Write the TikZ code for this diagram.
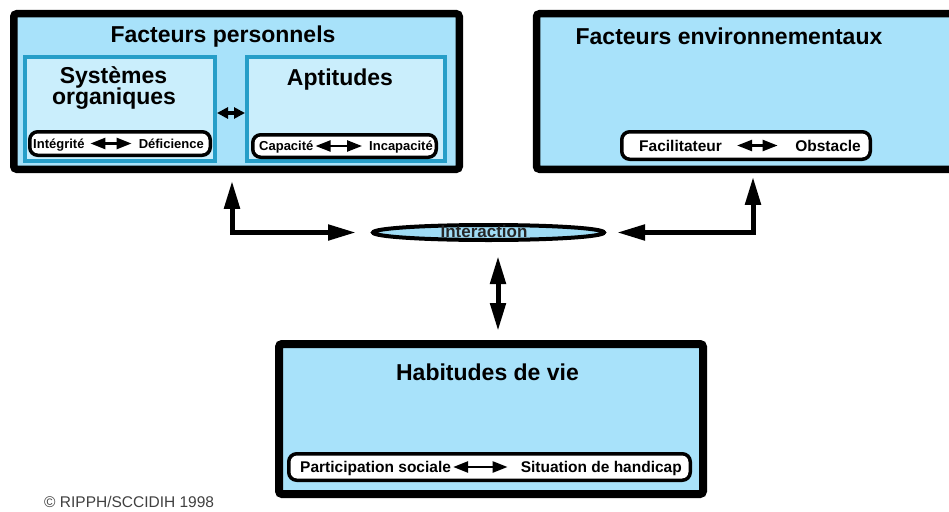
\documentclass[tikz,border=0pt]{standalone}
\usepackage{fontspec}
\setmainfont{Liberation Sans}
\usepackage{xcolor}
\usepackage{tikz}
\usetikzlibrary{shapes.geometric}
\usetikzlibrary{calc}
\usetikzlibrary{arrows.meta}

\definecolor{ciel}{RGB}{168,226,250}
\definecolor{cielclair}{RGB}{202,238,252}
\definecolor{bleubord}{RGB}{38,158,200}
\definecolor{cielell}{RGB}{160,220,245}

\tikzset{
  facteur/.style={draw=black,line width=7.5pt,fill=ciel,rounded corners=3pt,inner sep=0pt},
  souscase/.style={draw=bleubord,line width=4pt,fill=cielclair,inner sep=0pt},
  pastille/.style={draw=black,line width=3.5pt,fill=white,rounded corners=8pt,inner sep=0pt},
  titre/.style={font=\fontsize{23}{21}\selectfont\bfseries,inner sep=0pt,anchor=base},
  petit/.style={font=\fontsize{13}{13}\selectfont\bfseries,inner sep=0pt},
  moyen/.style={font=\fontsize{15.5}{15}\selectfont\bfseries,inner sep=0pt},
  grosse/.style={line width=5pt,{Triangle[length=28pt,width=15pt]}-{Triangle[length=28pt,width=15pt]}},
  milieu/.style={line width=3.5pt,{Triangle[length=11pt,width=11pt]}-{Triangle[length=11pt,width=11pt]}},
  fine/.style={line width=2.5pt,{Triangle[length=15pt,width=11pt]}-{Triangle[length=15pt,width=11pt]}},
}

\begin{document}
\begin{tikzpicture}[x=1pt,y=-1pt]
   \useasboundingbox (0,0) rectangle (949,511);
   \clip (0,0) rectangle (949,511);
   % les trois grandes cases
   \node[facteur,minimum width=445.5pt,minimum height=155.5pt] (fp) at (236.5,91.5) {};
   \node[facteur,minimum width=420pt,minimum height=155.5pt] (fe) at (746.5,91.5) {};
   \node[facteur,line width=8pt,minimum width=424pt,minimum height=150pt] (hv) at (491,419) {};
   % sous-cases
   \node[souscase,minimum width=190pt,minimum height=104pt] (so) at (120,109) {};
   \node[souscase,minimum width=198pt,minimum height=104pt] (ap) at (346,109) {};
   % pastilles
   \node[pastille,minimum width=180.5pt,minimum height=23.5pt] (p1) at (120,143.5) {};
   \node[pastille,minimum width=183.5pt,minimum height=22.5pt] (p2) at (344.5,146) {};
   \node[pastille,minimum width=248.5pt,minimum height=27.5pt] (p3) at (746,145.5) {};
   \node[pastille,minimum width=401.5pt,minimum height=26.5pt] (p4) at (489.5,467) {};
   \node[ellipse,draw=black,line width=4pt,fill=cielell,minimum width=231pt,minimum height=15pt,inner sep=0pt] (inter) at (488.5,232.5) {};
   % titres
   \node[titre] (fptxt) at (223,42.7) {Facteurs personnels};
   \node[titre] (fetxt) at (729,45) {Facteurs environnementaux};
   \node[titre] (hvtxt) at (487.5,380) {Habitudes de vie};
   \node[titre] (aptxt) at (340,85) {Aptitudes};
   \node[titre] (sotxta) at (113.5,83) {Systèmes};
   \node[titre] (sotxtb) at (114,104) {organiques};
   \node[font=\fontsize{17}{17}\selectfont\bfseries,text=black!85,inner sep=0pt,anchor=base] (intertxt) at (484,237) {Interaction};
   % textes des pastilles
   \node[petit,anchor=base west] (integ) at (33,148.2) {Intégrité};
   \node[petit,anchor=base east] (defic) at (204,148.2) {Déficience};
   \node[petit,anchor=base west] (capa) at (259,150.7) {Capacité};
   \node[petit,anchor=base east] (incapa) at (433,150.7) {Incapacité};
   \node[moyen,anchor=base west] (facil) at (639,151) {Facilitateur};
   \node[moyen,anchor=base east] (obst) at (861,151) {Obstacle};
   \node[moyen,anchor=base west] (parti) at (300,472.6) {Participation sociale};
   \node[moyen,anchor=base east] (situ) at (682,472.6) {Situation de handicap};
   \draw[fine,shorten <=5.7pt,shorten >=7pt] (integ.east |- p1) -- (defic.west |- p1);
   \draw[fine,shorten <=2pt,shorten >=7pt] (capa.east |- p2) -- (incapa.west |- p2);
   \draw[fine,shorten <=15pt,shorten >=17.5pt] (facil.east |- p3) -- (obst.west |- p3);
   \draw[fine,shorten <=2pt,shorten >=13pt] (parti.east |- p4) -- (situ.west |- p4);
   % liaisons
   \draw[milieu] ([yshift=-4pt]so.east) -- ([yshift=-4pt]ap.west);
   \draw[grosse,shorten <=7.75pt,shorten >=15pt] (fp.south -| 232,0) |- (inter.west);
   \draw[grosse,shorten <=3.75pt,shorten >=11pt] (fe.south -| 753,0) |- (inter.east);
   \draw[grosse,shorten <=14pt,shorten >=9pt] (inter.south -| 498,0) -- (hv.north -| 498,0);
   \node[font=\fontsize{15.5}{15}\selectfont,text=black!75,anchor=base west,inner sep=0pt] (copy) at (44,507) {© RIPPH/SCCIDIH 1998};
\end{tikzpicture}
\end{document}
